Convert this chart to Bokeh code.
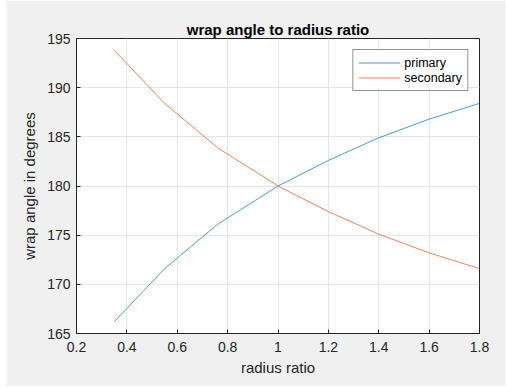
from bokeh.plotting import figure
from bokeh.models import FixedTicker, CustomJSTickFormatter, Range1d, Legend, LegendItem
from bokeh.embed import file_html
from bokeh.resources import INLINE

ratio = [0.35, 0.55, 0.76, 1.0, 1.2, 1.4, 1.6, 1.8]
primary = [166.2, 171.6, 176.1, 180.0, 182.6, 184.9, 186.8, 188.4]
secondary = [193.8, 188.4, 183.9, 180.0, 177.4, 175.1, 173.2, 171.6]
x_ticks = [0.2, 0.4, 0.6, 0.8, 1.0, 1.2, 1.4, 1.6, 1.8]
y_ticks = [165, 170, 175, 180, 185, 190, 195]

FONT = "Liberation Sans"
AX = "#262626"

p = figure(width=499, height=386, output_backend="svg", toolbar_location=None,
           x_range=Range1d(0.2, 1.8), y_range=Range1d(165, 195),
           title="wrap angle to radius ratio",
           x_axis_label="radius ratio", y_axis_label="wrap angle in degrees",
           min_border_left=70, min_border_right=26, min_border_top=38, min_border_bottom=53)
p.margin = (0, 0, 0, 6)

p.background_fill_color = "white"
p.border_fill_color = "#f0f0f0"
p.outline_line_color = AX
p.outline_line_width = 1

p.title.align = "center"
p.title.text_font = FONT
p.title.text_font_size = "15px"
p.title.text_font_style = "bold"
p.title.text_color = "black"
p.title.offset = 0
p.title.standoff = 2

for ax in (p.xaxis[0], p.yaxis[0]):
    ax.axis_line_color = AX
    ax.major_tick_line_color = AX
    ax.major_tick_in = 4
    ax.major_tick_out = 0
    ax.minor_tick_line_color = None
    ax.major_label_text_font = FONT
    ax.major_label_text_font_size = "14px"
    ax.major_label_text_color = AX
    ax.axis_label_text_font = FONT
    ax.axis_label_text_font_size = "15px"
    ax.axis_label_text_font_style = "normal"
    ax.axis_label_text_color = AX

p.xaxis[0].ticker = FixedTicker(ticks=x_ticks)
p.yaxis[0].ticker = FixedTicker(ticks=y_ticks)
p.xaxis[0].formatter = CustomJSTickFormatter(code="return Number(tick.toFixed(2)).toString();")
p.xaxis[0].major_label_standoff = 8
p.yaxis[0].major_label_standoff = 6
p.xaxis[0].axis_label_standoff = 4
p.yaxis[0].axis_label_standoff = 6

p.grid.grid_line_color = "#e6e6e6"
p.grid.grid_line_width = 1

r1 = p.line(ratio, primary, line_color="#0072BD", line_alpha=0.7, line_width=1)
r2 = p.line(ratio, secondary, line_color="#D95319", line_alpha=0.7, line_width=1)

legend = Legend(items=[LegendItem(label="primary", renderers=[r1]),
                       LegendItem(label="secondary", renderers=[r2])],
                location="top_right")
legend.margin = 11
legend.padding = 5
legend.spacing = 0
legend.glyph_width = 42
legend.glyph_height = 15
legend.label_height = 15
legend.label_standoff = 4
legend.label_text_font = FONT
legend.label_text_font_size = "12.5px"
legend.label_text_color = "black"
legend.border_line_color = AX
legend.border_line_width = 1
legend.background_fill_color = "white"
legend.background_fill_alpha = 1
p.add_layout(legend, "center")

open("out.html", "w").write(file_html(p, INLINE))
